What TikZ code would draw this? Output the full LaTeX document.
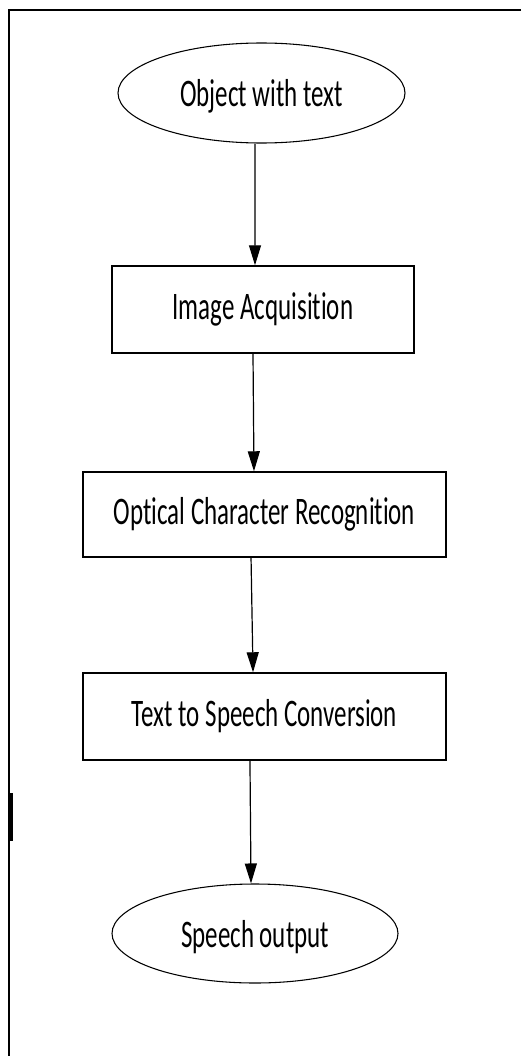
\documentclass[tikz,border=0pt]{standalone}
\usepackage{fontspec}
\setmainfont{Carlito}[FakeStretch=0.64,Ligatures=NoCommon]
\usetikzlibrary{arrows.meta,shapes.geometric}
\begin{document}
\begin{tikzpicture}[x=0.75pt,y=-0.75pt,
  every node/.style={font=\fontsize{29.25pt}{35pt}\selectfont, inner sep=0pt},
  termbox/.style={ellipse, draw, line width=0.8pt, text depth=0pt},
  procbox/.style={rectangle, draw, line width=1.1pt},
  flow/.style={-{Triangle[width=9pt,length=15pt]}, line width=0.9pt},
  frameline/.style={line width=1.5pt}]
\useasboundingbox (0,0) rectangle (521,1056);
\draw[frameline] (521,10) -- (9,10) -- (9,1056);
\fill (9,793) rectangle (13,841);
\node[termbox, minimum width=215.25pt, minimum height=75pt] (e1) at (261.5,93) {Object with text};
\node[procbox, minimum width=226.5pt, minimum height=65.25pt] (b1) at (263,309.5) {Image Acquisition};
\node[procbox, minimum width=272.25pt, minimum height=63.75pt] (b2) at (264.5,514.5) {Optical Character Recognition};
\node[procbox, minimum width=272.25pt, minimum height=65.25pt] (b3) at (264.5,716.5) {Text to Speech Conversion};
\node[termbox, minimum width=214.5pt, minimum height=74.25pt] (e2) at (255,933.5) {Speech output};
\draw[flow] ([xshift=-4.9pt]e1.south) -- ([xshift=-6pt]b1.north);
\draw[flow] ([xshift=-7.5pt]b1.south) -- ([xshift=-7.9pt]b2.north);
\draw[flow] ([xshift=-10.1pt]b2.south) -- ([xshift=-8.6pt]b3.north);
\draw[flow] ([xshift=-10.9pt]b3.south) -- ([xshift=-3pt]e2.north);
\end{tikzpicture}
\end{document}
